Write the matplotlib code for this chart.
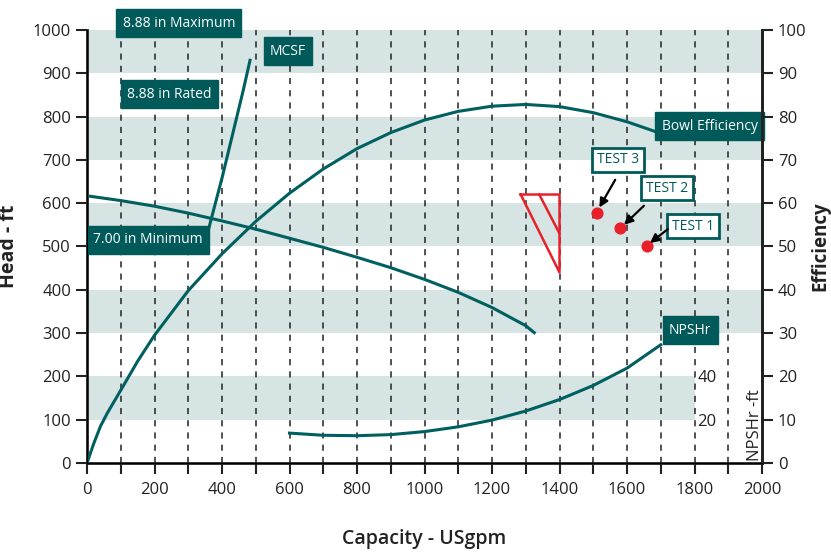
import matplotlib
matplotlib.use("Agg")
import matplotlib.pyplot as plt
import numpy as np

plt.rcParams["font.family"] = ["Open Sans", "DejaVu Sans"]

TEAL = "#005f5f"
BOX = "#005a5a"
BAND = "#d6e4e4"
INK = "#222222"

# head curve, 7.00 in impeller (capacity USgpm, head ft)
head_q = [0, 100, 200, 300, 400, 500, 600, 700, 800, 900, 1000, 1100, 1200, 1300, 1325]
head_h = [617, 606, 593, 577, 559, 540, 519, 498, 475, 451, 424, 394, 359, 317, 301]

# bowl efficiency (%)
eff_q = [0, 20, 40, 60, 100, 150, 200, 300, 400, 500, 600, 700, 800, 900,
         1000, 1100, 1200, 1300, 1400, 1500, 1600, 1700]
eff_v = [0, 4.5, 8.5, 11.5, 16.8, 23.5, 29.5, 39.8, 48.3, 55.8, 62.3, 67.9, 72.6, 76.3,
         79.2, 81.2, 82.4, 82.8, 82.3, 80.9, 78.8, 76.1]

# NPSHr (ft)
npsh_q = [600, 700, 800, 900, 1000, 1100, 1200, 1300, 1400, 1500, 1600, 1700]
npsh_v = [13.8, 12.8, 12.6, 13.1, 14.5, 16.7, 19.8, 24.0, 29.3, 35.8, 43.8, 54.6]

# MCSF line
mcsf_q = [348, 400, 463, 483]
mcsf_h = [504, 658, 861, 930]

# test points
test_names = ["TEST 1", "TEST 2", "TEST 3"]
test_q = [1660, 1580, 1510]
test_h = [501, 543, 577]

# tolerance triangle
tri_q = [1285, 1400, 1400, 1285]
tri_h = [620, 620, 440, 620]

fig = plt.figure(figsize=(8.31, 5.55), dpi=100)
ax = fig.add_axes([0.1047, 0.1658, 0.8123, 0.7802])

# striped bands
for lo in [300, 500, 700, 900]:
    ax.axhspan(lo, lo + 100, color=BAND, lw=0, zorder=0)
ax.axhspan(100, 200, xmin=0, xmax=0.9, color=BAND, lw=0, zorder=0)

for q in range(100, 2000, 100):
    ax.axvline(q, color=INK, lw=1.1, ls=(0, (4, 4)), zorder=1)

line_kw = dict(color=TEAL, lw=2.2, zorder=3, solid_joinstyle="round")
ax.plot(head_q, head_h, **line_kw)
ax.plot(eff_q, np.array(eff_v) * 10, **line_kw)
ax.plot(npsh_q, np.array(npsh_v) * 5, **line_kw)
ax.plot(mcsf_q, mcsf_h, **line_kw)

ax.plot(tri_q, tri_h, color="#e8202a", lw=1.8, zorder=3)
ax.plot([1340, 1400], [620, 530], color="#e8202a", lw=1.8, zorder=3)

ax.scatter(test_q, test_h, s=60, color="#e8202a", zorder=5)

# test callouts: label centre, arrow tail, arrow tip
callouts = {
    "TEST 1": ((1796, 547), (1721, 540), (1668, 508)),
    "TEST 2": ((1718, 635), (1650, 594), (1591, 550)),
    "TEST 3": ((1573, 700), (1565, 654), (1518, 590)),
}
for name in test_names:
    (lq, lh), tail, tip = callouts[name]
    ax.text(lq, lh, name, ha="center", va="center", fontsize=10, color=BOX,
            bbox=dict(boxstyle="square,pad=0.35", fc="white", ec=BOX, lw=2), zorder=6)
    ax.annotate("", xy=tip, xytext=tail,
                arrowprops=dict(arrowstyle="-|>", color="black", lw=1.6,
                                mutation_scale=13, shrinkA=0, shrinkB=0), zorder=6)

box_kw = dict(ha="center", va="center", fontsize=10, color="white", zorder=7,
              bbox=dict(boxstyle="square,pad=0.45", fc=BOX, ec=BOX))
ax.text(272, 1016, "8.88 in Maximum", clip_on=False, **box_kw)
ax.text(595, 951, "MCSF", **box_kw)
ax.text(243, 852, "8.88 in Rated", **box_kw)
ax.text(180, 515, "7.00 in Minimum", **box_kw)
ax.text(1845, 778, "Bowl Efficiency", **box_kw)
ax.text(1787, 307, "NPSHr", **box_kw)

# NPSHr scale labels
ax.text(1808, 196, "40", fontsize=12, ha="left", va="center", color=INK, zorder=4)
ax.text(1808, 95, "20", fontsize=12, ha="left", va="center", color=INK, zorder=4)
ax.text(2003, 5, "NPSHr -ft", fontsize=12, rotation=90, ha="right", va="bottom",
        color=INK, zorder=4)

ax.set_xlim(0, 2000)
ax.set_ylim(0, 1000)
ax.set_xticks(range(0, 2001, 100))
ax.set_xticklabels([str(v) if v % 200 == 0 else "" for v in range(0, 2001, 100)])
ax.set_yticks(range(0, 1001, 100))
ax.tick_params(axis="both", labelsize=12, width=1.5, length=8, colors=INK)
ax.tick_params(axis="x", pad=6)

for side in ["left", "bottom", "right"]:
    ax.spines[side].set_linewidth(2)
    ax.spines[side].set_color(INK)
ax.spines["top"].set_visible(False)

ax2 = ax.twinx()
ax2.set_ylim(0, 100)
ax2.set_yticks(range(0, 101, 10))
ax2.tick_params(axis="y", labelsize=12, width=1.5, length=8, colors=INK)
ax2.spines["top"].set_visible(False)
ax2.spines["right"].set_linewidth(2)
ax2.spines["right"].set_color(INK)

ax.set_xlabel("Capacity - USgpm", fontsize=14, fontweight="semibold", labelpad=22, color=INK)
ax.set_ylabel("Head - ft", fontsize=14, fontweight="bold", labelpad=10, color=INK)
ax2.set_ylabel("Efficiency", fontsize=13.5, fontweight="bold", labelpad=3, color=INK)

fig.savefig("out.png", dpi=100)
